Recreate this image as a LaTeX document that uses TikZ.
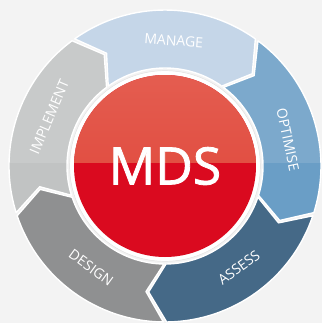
\documentclass[tikz,border=0pt]{standalone}
\usepackage{fontspec}
\setmainfont{Open Sans}
\newfontfamily\mdsfont[FakeBold=1.6]{Open Sans}
\definecolor{bgcol}{HTML}{F3F3F3}
\definecolor{manage}{HTML}{BDD1E5}
\definecolor{optimise}{HTML}{6A9EC6}
\definecolor{assess}{HTML}{456987}
\definecolor{design}{HTML}{8F9091}
\definecolor{implement}{HTML}{C1C3C3}
\definecolor{mdslow}{HTML}{DA0A1F}
\definecolor{mdshigh}{HTML}{E45D50}
\definecolor{mdsmid}{HTML}{DF4135}
\tikzset{
  segment/.style={draw=white,line width=1.2pt,line join=round},
  lbl/.style={text=white,font=\fontsize{12}{12}\selectfont,inner sep=0pt}
}
\begin{document}
\begin{tikzpicture}
% background, sized like the reference
\fill[bgcol] (-4.95,-4.71) rectangle (4.71,4.98) ;
\useasboundingbox (-4.95,-4.71) rectangle (4.71,4.98) ;
% ring of arrows, running clockwise
\foreach \s/\col [evaluate=\s as \sa using \s-0.6, evaluate=\s as \ea using \s-72+0.6,
   evaluate=\s as \sn using \s-0.6-8, evaluate=\s as \en using \s-72+0.6-8]
  in {126/manage, 54/optimise, -18/assess, -90/design, -162/implement}
  \fill[\col,segment] (\sa:4.68) arc[start angle=\sa,end angle=\ea,radius=4.68]
    -- (\en:3.81) -- (\ea:2.94) arc[start angle=\ea,end angle=\sa,radius=2.94]
    -- (\sn:3.81) -- cycle ;
% gloss on the upper half
\begin{scope}
  \clip (-5,0.1) rectangle (5,5) ;
  \fill[white,opacity=.12,even odd rule] (0,0) circle (4.7) (0,0) circle (2.9) ;
\end{scope}
% hub
\fill[white,draw=black!12,line width=.4pt] (0,0) circle (2.86) ;
\fill[mdslow] (0,0) circle (2.73) ;
\begin{scope}
  \clip (-3,0.1) rectangle (3,3) ;
  \shade[top color=mdshigh,bottom color=mdsmid] (0,0) circle (2.73) ;
\end{scope}
\node[text=white,font=\mdsfont\fontsize{44}{44}\selectfont] (mds) at (0,0) {MDS} ;
% labels
\foreach \t/\a/\r in {MANAGE/86/-4, OPTIMISE/12/-78, ASSESS/-54/36, DESIGN/-126/-36, IMPLEMENT/157/67}
  \node[lbl,rotate=\r] (lbl-\t) at (\a:3.77) {\t} ;
\end{tikzpicture}
\end{document}
